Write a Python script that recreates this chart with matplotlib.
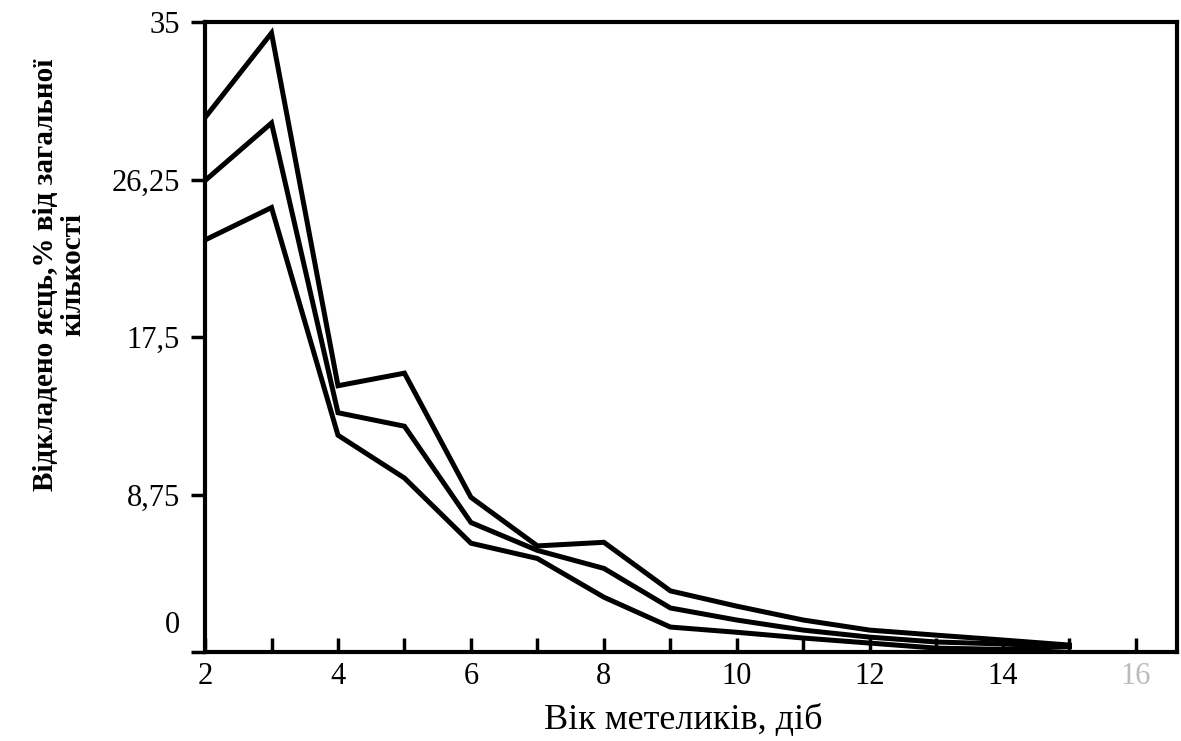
import matplotlib
matplotlib.use("Agg")
import matplotlib.pyplot as plt
import matplotlib.transforms as mtransforms

# вік метеликів, діб
age = [2, 3, 4, 5, 6, 7, 8, 9, 10, 11, 12, 13, 14, 15]

# три криві
upper = [29.7, 34.4, 14.8, 15.5, 8.6, 5.9, 6.1, 3.4, 2.55, 1.78, 1.22, 0.94, 0.67, 0.39]
middle = [26.2, 29.4, 13.3, 12.55, 7.2, 5.65, 4.65, 2.45, 1.78, 1.22, 0.83, 0.56, 0.45, 0.33]
lower = [22.9, 24.7, 12.05, 9.67, 6.05, 5.2, 3.05, 1.39, 1.1, 0.78, 0.5, 0.22, 0.15, 0.3]

y_ticks = [0, 8.75, 17.5, 26.25, 35]
y_labels = ["0", "8,75", "17,5", "26,25", "35"]
x_ticks = [2, 4, 6, 8, 10, 12, 14, 16]
x_labels = ["2", "4", "6", "8", "10", "12", "14", "16"]

plt.rcParams['font.family'] = ['Liberation Serif', 'DejaVu Serif']

fig = plt.figure(figsize=(11.81, 7.41), dpi=100)
ax = fig.add_axes([0.1736, 0.120, 0.823, 0.850])

for series in (upper, middle, lower):
    ax.plot(age, series, color='black', lw=3.6, solid_joinstyle='miter')

ax.set_xlim(2, 16.62)
ax.set_ylim(0, 35)

ax.set_xticks(x_ticks)
ax.set_xticklabels(x_labels, fontsize=22)
ax.set_xticks(range(3, 17, 2), minor=True)
ax.tick_params(axis='x', which='both', direction='in', length=10, width=2.5, pad=7)
ax.xaxis.get_ticklabels()[-1].set_color('#bbbbbb')

ax.set_yticks(y_ticks)
ax.set_yticklabels(y_labels, fontsize=22)
ax.tick_params(axis='y', direction='out', length=10, width=2.5, pad=8)

# підпис "0" трохи вище нуля, як на оригіналі
lbl0 = ax.yaxis.get_ticklabels()[0]
lbl0.set_transform(lbl0.get_transform() + mtransforms.ScaledTranslation(0, 0.3, fig.dpi_scale_trans))

for sp in ax.spines.values():
    sp.set_linewidth(3)

fig.text(0.050, 1 - 275 / 741, "Відкладено яєць,% від загальної\nкількості",
         rotation=90, ha='center', va='center', multialignment='center',
         fontsize=21, fontweight='bold', linespacing=1.0)
fig.text(683 / 1181, 1 - 720 / 741, "Вік метеликів, діб", ha='center', va='center', fontsize=26)

fig.savefig("out.png", dpi=100, facecolor='white')
